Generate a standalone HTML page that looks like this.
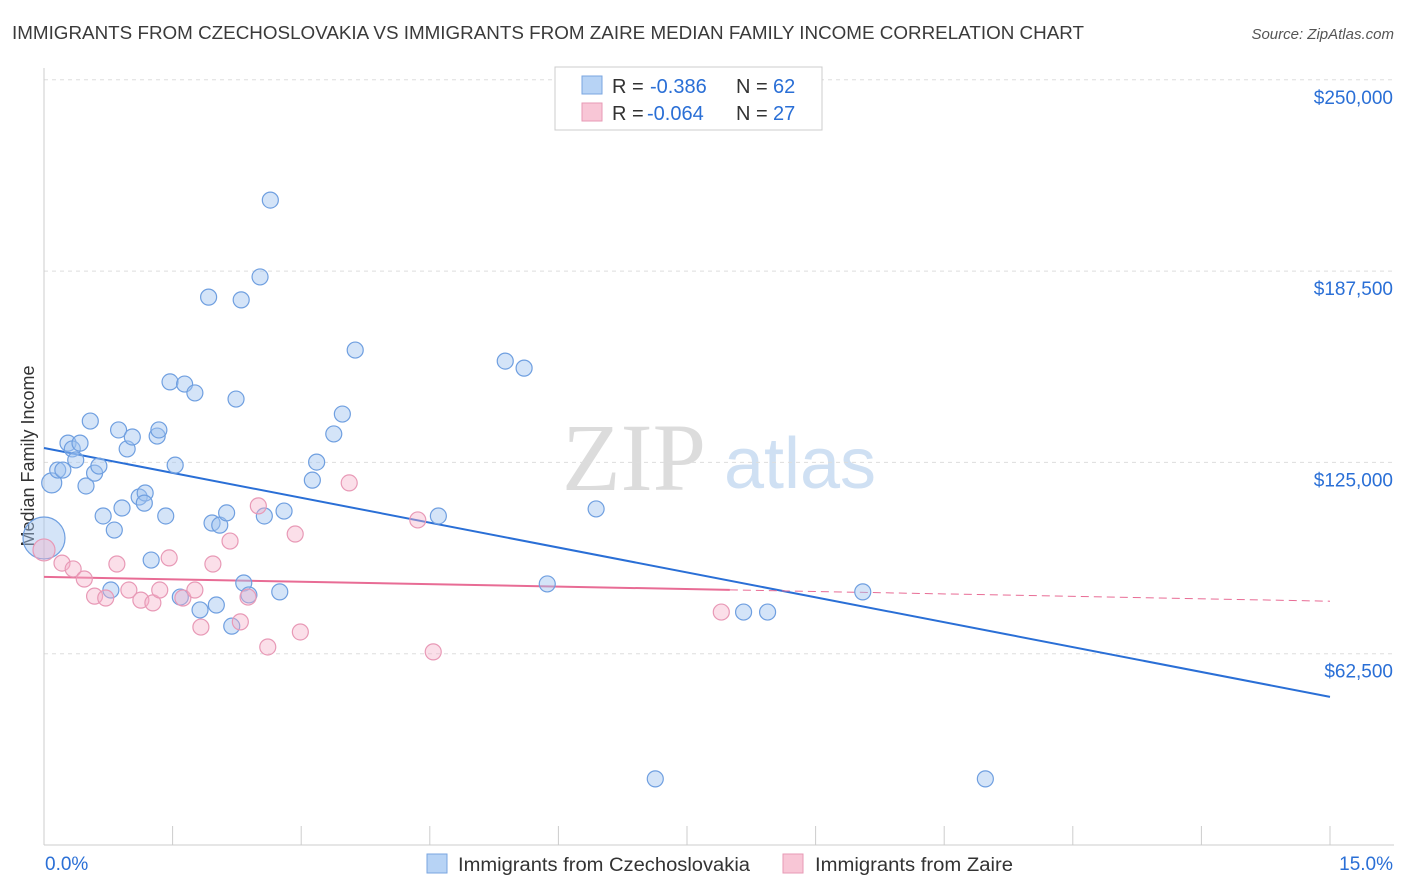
<!DOCTYPE html>
<html><head><meta charset="utf-8">
<style>
body{margin:0;background:#fff;font-family:"Liberation Sans",sans-serif;}
#wrap{position:relative;width:1406px;height:892px;overflow:hidden}
</style></head>
<body>
<div id="wrap">
<svg id="chart" width="1406" height="892">
  <text x="12" y="39" font-size="18" fill="#3a3a3a" textLength="1072" lengthAdjust="spacingAndGlyphs">IMMIGRANTS FROM CZECHOSLOVAKIA VS IMMIGRANTS FROM ZAIRE MEDIAN FAMILY INCOME CORRELATION CHART</text>
  <text x="1394" y="39" font-size="15" fill="#555" font-style="italic" text-anchor="end">Source: ZipAtlas.com</text>
  <text transform="translate(34,456) rotate(-90)" font-size="18" fill="#333" text-anchor="middle">Median Family Income</text>
  <g>
    <text x="634" y="490" font-size="96" fill="#dcdcdc" font-family="Liberation Serif,serif" text-anchor="middle">ZIP</text>
    <text x="800" y="488" font-size="72" fill="#cfe0f3" text-anchor="middle">atlas</text>
  </g>
  <g id="grid"></g>
  <g id="axes"></g>
  <g id="lines"></g>
  <g id="points"></g>
  <g>
    <rect x="555" y="67" width="267" height="63" fill="#fff" stroke="#ccc"/>
    <rect x="582" y="76" width="20" height="18" fill="#b7d3f5" stroke="#7aa6e0"/>
    <text x="612" y="93" font-size="20" fill="#333">R =</text>
    <text x="650" y="93" font-size="20" fill="#2a6fd6">-0.386</text>
    <text x="736" y="93" font-size="20" fill="#333">N =</text>
    <text x="773" y="93" font-size="20" fill="#2a6fd6">62</text>
    <rect x="582" y="103" width="20" height="18" fill="#f8c6d6" stroke="#e79ab5"/>
    <text x="612" y="120" font-size="20" fill="#333">R =</text>
    <text x="647" y="120" font-size="20" fill="#2a6fd6">-0.064</text>
    <text x="736" y="120" font-size="20" fill="#333">N =</text>
    <text x="773" y="120" font-size="20" fill="#2a6fd6">27</text>
  </g>
  <g>
    <rect x="427" y="854" width="20" height="19" fill="#b7d3f5" stroke="#7aa6e0"/>
    <text x="458" y="871" font-size="19" fill="#333" textLength="292" lengthAdjust="spacingAndGlyphs">Immigrants from Czechoslovakia</text>
    <rect x="783" y="854" width="20" height="19" fill="#f8c6d6" stroke="#e79ab5"/>
    <text x="815" y="871" font-size="19" fill="#333" textLength="198" lengthAdjust="spacingAndGlyphs">Immigrants from Zaire</text>
  </g>
</svg>
</div>
<script>
const yTicks=[62500,125000,187500,250000];
const yTickLabels=["$62,500","$125,000","$187,500","$250,000"];
const xTickCount=10;
const xEndLabels=["0.0%","15.0%"];
const czechX=[0.09,0.16,0.22,0.28,0.33,0.42,0.37,0.49,0.54,0.59,0.64,0.69,0.82,0.78,0.87,0.91,0.97,1.03,1.11,1.18,1.17,1.25,1.32,1.34,1.42,1.47,1.53,1.59,1.64,1.76,1.82,1.92,1.96,2.01,2.05,2.13,2.19,2.24,2.30,2.33,2.39,2.52,2.57,2.64,2.75,2.80,3.13,3.18,3.38,3.48,3.63,4.60,5.38,5.60,5.87,6.44,7.13,8.16,8.44,9.55,10.98,0.0];
const czechY=[118.3,122.5,122.5,131.3,129.4,131.3,125.8,117.3,138.5,121.5,123.8,107.5,102.9,83.3,135.6,110.1,129.4,133.3,113.7,115.0,111.7,93.1,133.6,135.6,107.5,151.3,124.1,81.0,150.6,147.7,76.8,179.0,105.2,78.4,104.5,108.5,71.5,145.7,178.1,85.6,81.7,185.6,107.5,210.7,82.7,109.1,119.2,125.1,134.3,140.8,161.7,107.5,158.1,155.8,85.3,109.8,21.6,76.1,76.1,82.7,21.6,100.3];
const czechR=[10,8,8,8,8,8,8,8,8,8,8,8,8,8,8,8,8,8,8,8,8,8,8,8,8,8,8,8,8,8,8,8,8,8,8,8,8,8,8,8,8,8,8,8,8,8,8,8,8,8,8,8,8,8,8,8,8,8,8,8,8,21];
const zaireX=[0,0.21,0.34,0.47,0.59,0.72,0.85,0.99,1.13,1.27,1.35,1.46,1.62,1.76,1.83,1.97,2.17,2.29,2.38,2.50,2.61,2.93,2.99,3.56,4.36,4.54,7.90];
const zaireY=[96.4,92.1,90.2,86.9,81.3,80.7,91.8,83.3,80.0,79.1,83.3,93.8,80.7,83.3,71.2,91.8,99.3,72.9,81.0,110.8,64.7,101.6,69.6,118.3,106.2,63.1,76.1];
const czechTrend=[129.7,-5.42];
const zaireTrend=[87.6,-0.53];
const zaireSolidEnd=8.0;

const X0=44,X1=1330,YB=845,PX=191.3/62.5;
const sx=v=>X0+(X1-X0)*v/15;
const sy=v=>YB-v*PX;
const NS="http://www.w3.org/2000/svg";
function mk(tag,attrs,parent){const e=document.createElementNS(NS,tag);for(const k in attrs)e.setAttribute(k,attrs[k]);parent.appendChild(e);return e;}
const grid=document.getElementById('grid'),axes=document.getElementById('axes'),lines=document.getElementById('lines'),pts=document.getElementById('points');
yTicks.forEach((t,i)=>{
  const y=sy(t/1000);
  const g=mk('line',{x1:X0,x2:1394,y1:y,y2:y,stroke:'#ddd','stroke-dasharray':'4,4'},grid);
  
  
  const tx=mk('text',{x:1393,y:y+24,'font-size':19,fill:'#2a6fd6','text-anchor':'end'},axes);
  tx.textContent=yTickLabels[i];
  
  
});
const ax=mk('line',{x1:X0,x2:X0,y1:68,y2:YB,stroke:'#ccc'},axes);


const bx=mk('line',{x1:X0,x2:1394,y1:YB,y2:YB,stroke:'#ccc'},axes);


for(let i=1;i<=xTickCount;i++){
  const x=sx(15*i/xTickCount);
  const t=mk('line',{x1:x,x2:x,y1:826,y2:YB,stroke:'#ccc'},axes);
  
  
}
[[X0+1,'start',0],[1393,'end',1]].forEach(([x,a,i])=>{
  const t=mk('text',{x:x,y:870,'font-size':19,fill:'#2a6fd6','text-anchor':a},axes);
  t.textContent=xEndLabels[i];
  
  
});
czechX.forEach((v,i)=>{
  const c=mk('circle',{cx:sx(v),cy:sy(czechY[i]),r:czechR[i],fill:'rgba(160,196,240,0.45)',stroke:'#6f9fe0','stroke-width':1.2},pts);
  
  
});
zaireX.forEach((v,i)=>{
  const c=mk('circle',{cx:sx(v),cy:sy(zaireY[i]),r:i===0?11:8,fill:'rgba(246,176,200,0.4)',stroke:'#e899b6','stroke-width':1.2},pts);
  
  
});
const ct=mk('line',{x1:sx(0),y1:sy(czechTrend[0]),x2:sx(15),y2:sy(czechTrend[0]+15*czechTrend[1]),stroke:'#2a6fd6','stroke-width':2},lines);


const zs=mk('line',{x1:sx(0),y1:sy(zaireTrend[0]),x2:sx(zaireSolidEnd),y2:sy(zaireTrend[0]+zaireSolidEnd*zaireTrend[1]),stroke:'#e86c95','stroke-width':2},lines);


const zd=mk('line',{x1:sx(zaireSolidEnd),y1:sy(zaireTrend[0]+zaireSolidEnd*zaireTrend[1]),x2:sx(15),y2:sy(zaireTrend[0]+15*zaireTrend[1]),stroke:'#e86c95','stroke-width':1,'stroke-dasharray':'8,5'},lines);


</script>
</body></html>
